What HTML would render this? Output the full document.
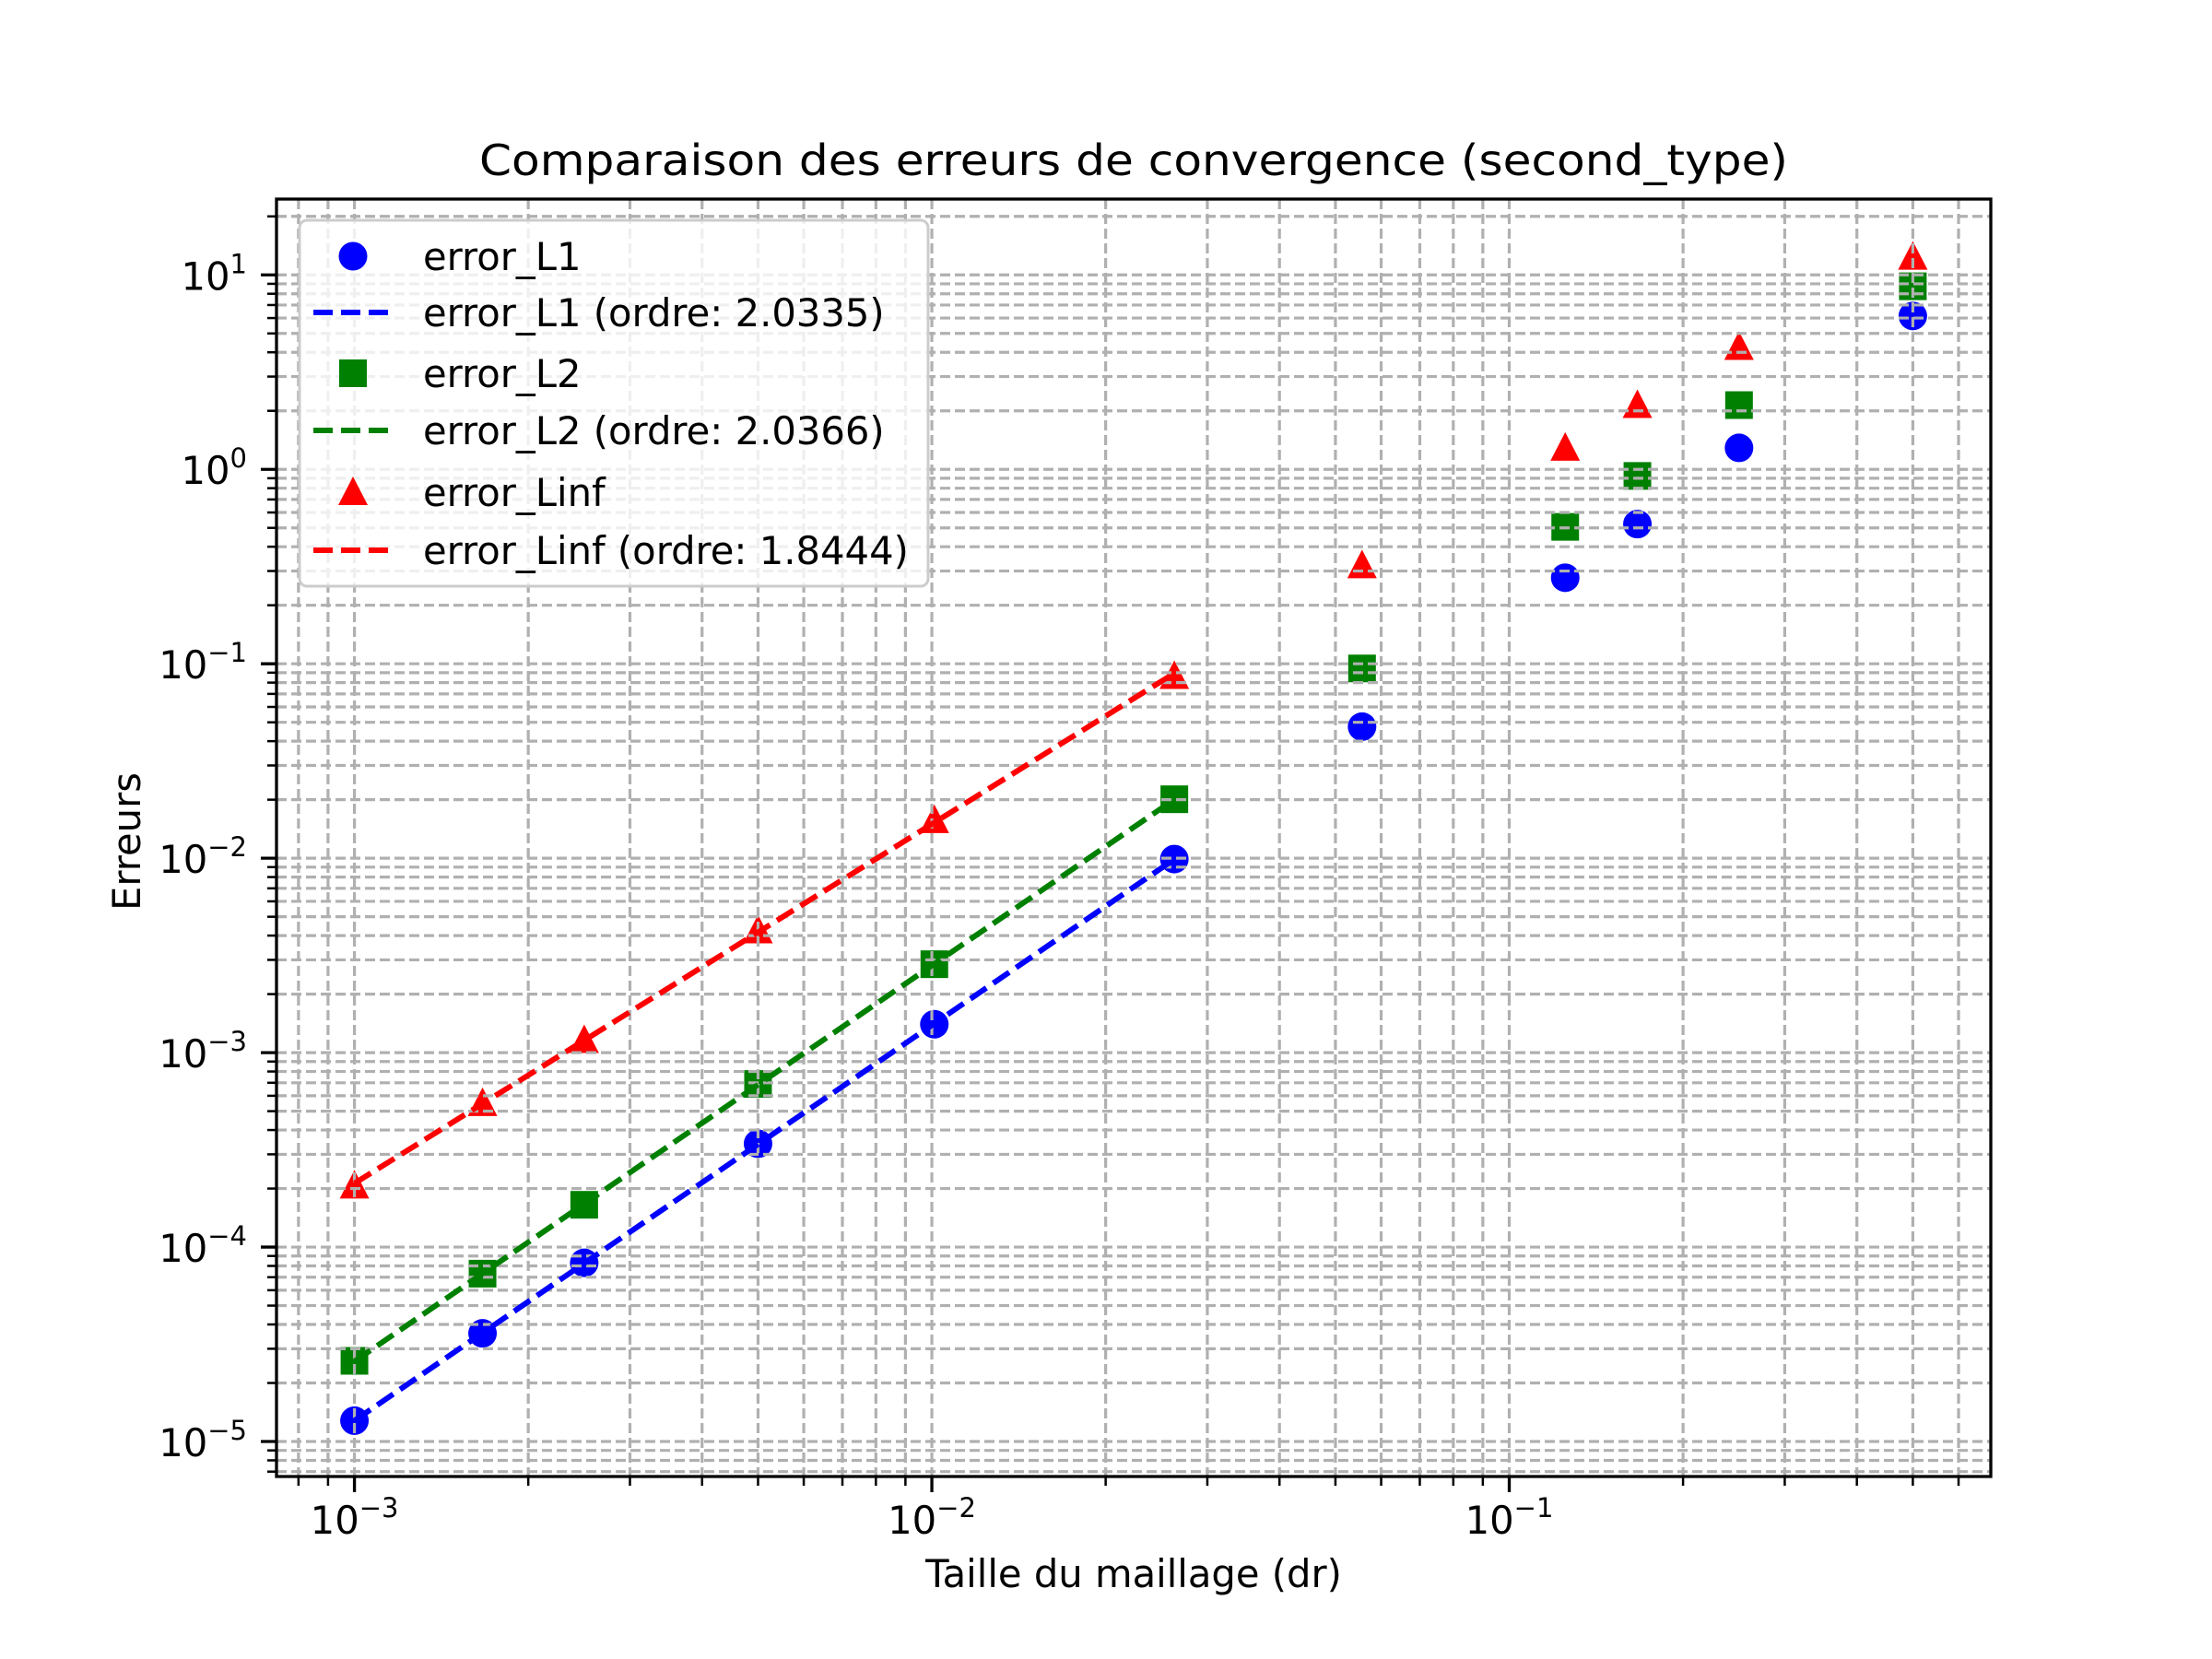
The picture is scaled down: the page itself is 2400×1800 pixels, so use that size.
<!DOCTYPE html>
<html><head><meta charset="utf-8"><style>
html,body{margin:0;padding:0;background:#fff}
svg{display:block}
text{font-family:"DejaVu Sans","Liberation Sans",sans-serif;fill:#000}
</style></head><body>
<svg id="chart" width="2400" height="1800" viewBox="0 0 2400 1800" xmlns="http://www.w3.org/2000/svg">
<rect width="2400" height="1800" fill="#fff"/>
<text x="1230" y="190" text-anchor="middle" font-size="46" textLength="1420" lengthAdjust="spacingAndGlyphs">Comparaison des erreurs de convergence (second_type)</text>
<text x="1230" y="1722" text-anchor="middle" font-size="41.7">Taille du maillage (dr)</text>
<text x="152" y="913" text-anchor="middle" font-size="41.7" transform="rotate(-90 152 913)">Erreurs</text>
<g id="markers"></g>
<g id="grid"></g>
<g id="lines"></g>
<g id="axes"></g>
<g id="legend"></g>
</svg>
<script>
const dr = [0.001, 1/600, 0.0025, 0.005, 0.0101, 0.0263, 0.0556, 0.125, 0.1667, 0.25, 0.5];
const errL1 = [1.28e-5, 3.6e-5, 8.3e-5, 3.4e-4, 1.4e-3, 9.9e-3, 0.0475, 0.277, 0.523, 1.29, 6.15];
const errL2 = [2.6e-5, 7.3e-5, 1.65e-4, 6.9e-4, 2.85e-3, 0.0201, 0.0946, 0.506, 0.925, 2.14, 8.74];
const errLinf = [2.07e-4, 5.5e-4, 1.16e-3, 4.25e-3, 0.0157, 0.0865, 0.321, 1.29, 2.14, 4.26, 12.4];
const fitCount = 6;
const legendLabels = ["error_L1", "error_L1 (ordre: 2.0335)", "error_L2", "error_L2 (ordre: 2.0366)", "error_Linf", "error_Linf (ordre: 1.8444)"];
const xTickExps = [-3, -2, -1];
const yTickExps = [-5, -4, -3, -2, -1, 0, 1];

const NS = "http://www.w3.org/2000/svg";
const L = 300, R = 2160, T = 216, B = 1602;
const xmin = -3.135, xmax = -0.166, ymin = -5.18, ymax = 1.39;
function X(v){ return L + (Math.log10(v) - xmin) / (xmax - xmin) * (R - L); }
function Y(v){ return B - (Math.log10(v) - ymin) / (ymax - ymin) * (B - T); }
function mk(tag, attrs, parent){ const e = document.createElementNS(NS, tag); for (const k in attrs) e.setAttribute(k, attrs[k]); parent.appendChild(e); return e; }

const gM = document.getElementById('markers'), gG = document.getElementById('grid'), gL = document.getElementById('lines'), gA = document.getElementById('axes'), gLeg = document.getElementById('legend');

function drawMarker(shape, cx, cy, color, parent){
  let e;
  if (shape === 'circle') e = mk('circle', {cx: cx, cy: cy, r: 15.5, fill: color}, parent);
  else if (shape === 'square') e = mk('rect', {x: cx - 15, y: cy - 15, width: 30, height: 30, fill: color}, parent);
  else e = mk('polygon', {points: `${cx},${cy-17} ${cx-16},${cy+14} ${cx+16},${cy+14}`, fill: color}, parent);
  return e;
}
const series = [
  {vals: errL1, color: '#0000ff', shape: 'circle', name: 'l1'},
  {vals: errL2, color: '#008000', shape: 'square', name: 'l2'},
  {vals: errLinf, color: '#ff0000', shape: 'triangle', name: 'linf'}
];
series.forEach(s => {
  s.vals.forEach((v, i) => {
    const e = drawMarker(s.shape, X(dr[i]), Y(v), s.color, gM);
    
    
  });
});

const gridStyle = {stroke: '#b0b0b0', 'stroke-width': 3.2, 'stroke-dasharray': '11 5'};
for (let d = -4; d <= 0; d++) for (let m = 1; m <= 9; m++) {
  const v = m * Math.pow(10, d); const x = X(v);
  if (x < L || x > R) continue;
  const e = mk('line', Object.assign({x1: x, x2: x, y1: T, y2: B}, gridStyle), gG);
  
  
  mk('line', {x1: x, x2: x, y1: B, y2: B + (m === 1 ? 17 : 10), stroke: '#000', 'stroke-width': m === 1 ? 3.3 : 2.5}, gA);
}
for (let d = -6; d <= 1; d++) for (let m = 1; m <= 9; m++) {
  const v = m * Math.pow(10, d); const y = Y(v);
  if (y < T || y > B) continue;
  const e = mk('line', Object.assign({x1: L, x2: R, y1: y, y2: y}, gridStyle), gG);
  
  
  mk('line', {x1: L, x2: L - (m === 1 ? 17 : 10), y1: y, y2: y, stroke: '#000', 'stroke-width': m === 1 ? 3.3 : 2.5}, gA);
}

series.forEach(s => {
  const xs = dr.slice(0, fitCount).map(Math.log10), ys = s.vals.slice(0, fitCount).map(Math.log10);
  const n = xs.length, mx = xs.reduce((a,b)=>a+b)/n, my = ys.reduce((a,b)=>a+b)/n;
  let sxy = 0, sxx = 0; for (let i = 0; i < n; i++){ sxy += (xs[i]-mx)*(ys[i]-my); sxx += (xs[i]-mx)**2; }
  const k = sxy / sxx, c = my - k * mx;
  const pts = xs.map(lx => X(Math.pow(10, lx)) + ',' + Y(Math.pow(10, k*lx + c))).join(' ');
  const e = mk('polyline', {points: pts, fill: 'none', stroke: s.color, 'stroke-width': 6, 'stroke-dasharray': '21 9'}, gL);
  
  
});

const sp = mk('rect', {x: L, y: T, width: R - L, height: B - T, fill: 'none', stroke: '#000', 'stroke-width': 3.3}, gA);



xTickExps.forEach(ex => {
  const t = mk('text', {x: X(Math.pow(10, ex)), y: 1664, 'text-anchor': 'middle', 'font-size': 41.7}, gA);
  
  
  t.innerHTML = '10<tspan font-size="29" dy="-18">\u2212' + Math.abs(ex) + '</tspan>';
});
yTickExps.forEach(ex => {
  const t = mk('text', {x: 268, y: Y(Math.pow(10, ex)) + 16, 'text-anchor': 'end', 'font-size': 41.7}, gA);
  
  
  t.innerHTML = '10<tspan font-size="29" dy="-18">' + (ex < 0 ? '\u2212' : '') + Math.abs(ex) + '</tspan>';
});

const lb = mk('rect', {x: 325, y: 239, width: 682, height: 397, rx: 8, fill: '#fff', 'fill-opacity': 0.8, stroke: '#cccccc', 'stroke-width': 3}, gLeg);


const rowY = [278, 339, 405, 467, 534, 597];
legendLabels.forEach((lab, i) => {
  const s = series[Math.floor(i / 2)];
  const g = mk('g', {}, gLeg);
  
  
  if (i % 2 === 0) drawMarker(s.shape, 383, rowY[i], s.color, g);
  else mk('line', {x1: 340, x2: 425, y1: rowY[i], y2: rowY[i], stroke: s.color, 'stroke-width': 6, 'stroke-dasharray': '21 9'}, g);
  const t = mk('text', {x: 459, y: rowY[i] + 15, 'font-size': 41.7}, g);
  t.textContent = lab;
});
</script>
</body></html>
